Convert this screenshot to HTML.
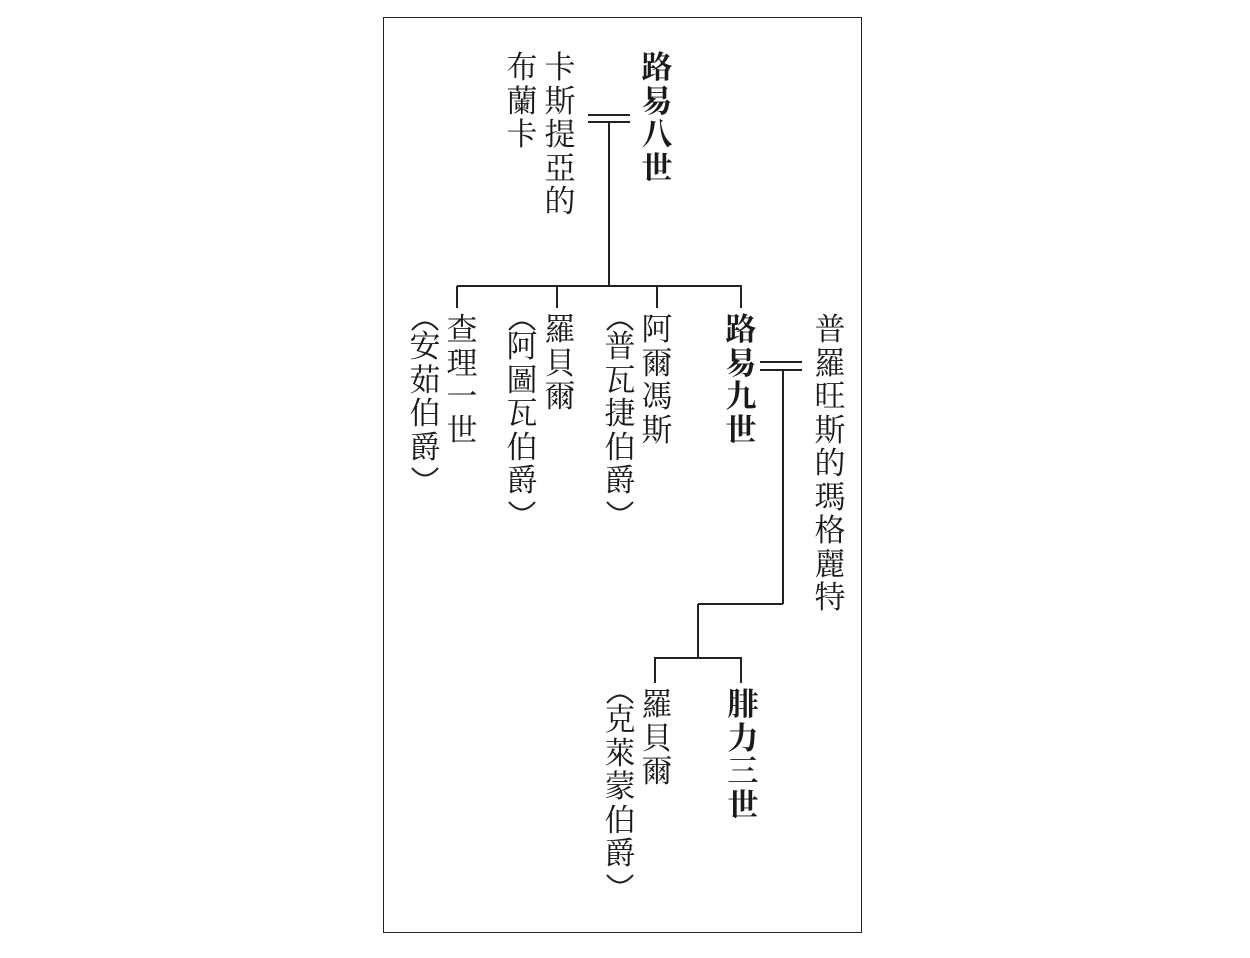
<!DOCTYPE html>
<html><head><meta charset="utf-8"><style>
body{margin:0;background:#fff;width:1250px;height:958px;position:relative;overflow:hidden}
.box{position:absolute;left:383px;top:17px;width:477px;height:914px;border:1.5px solid #222}
.col{position:absolute;width:34px;font-family:"Liberation Serif","Noto Serif CJK SC",serif;font-size:31px;color:#1a1a1a}
.col div{height:33.5px;line-height:33.5px;text-align:center}
.col div.p{height:17px;line-height:17px}
.b{font-weight:bold}
svg.l{position:absolute;left:0;top:0}
</style></head><body>
<div class="box"></div>
<svg class="l" width="1250" height="958" stroke="#222" stroke-width="2" fill="none">
<line x1="588" y1="115" x2="630" y2="115"/><line x1="588" y1="122" x2="630" y2="122"/>
<line x1="609" y1="122" x2="609" y2="286"/>
<line x1="457" y1="286" x2="742" y2="286"/>
<line x1="457" y1="286" x2="457" y2="308"/><line x1="557" y1="286" x2="557" y2="308"/>
<line x1="657" y1="286" x2="657" y2="308"/><line x1="741" y1="286" x2="741" y2="308"/>
<line x1="760" y1="362" x2="802" y2="362"/><line x1="760" y1="370" x2="802" y2="370"/>
<line x1="783" y1="370" x2="783" y2="604"/>
<line x1="698" y1="604" x2="783" y2="604"/>
<line x1="698" y1="604" x2="698" y2="658"/>
<line x1="654" y1="658" x2="742" y2="658"/>
<line x1="655" y1="658" x2="655" y2="683"/><line x1="741" y1="658" x2="741" y2="683"/>
</svg>
<div class="col b" style="left:640px;top:51px"><div>路</div><div>易</div><div>八</div><div>世</div></div>
<div class="col" style="left:543px;top:51px"><div>卡</div><div>斯</div><div>提</div><div>亞</div><div>的</div></div>
<div class="col" style="left:505px;top:51px"><div>布</div><div>蘭</div><div>卡</div></div>

<div class="col" style="left:445px;top:313px"><div>查</div><div>理</div><div>一</div><div>世</div></div>
<div class="col" style="left:408px;top:313px"><div class="p"><svg width="34" height="17"><path d="M4 15 Q17 0 30 15" stroke="#222" stroke-width="2" fill="none"/></svg></div><div>安</div><div>茹</div><div>伯</div><div>爵</div><div class="p"><svg width="34" height="17"><path d="M4 2 Q17 17 30 2" stroke="#222" stroke-width="2" fill="none"/></svg></div></div>

<div class="col" style="left:543px;top:313px"><div>羅</div><div>貝</div><div>爾</div></div>
<div class="col" style="left:505px;top:313px"><div class="p"><svg width="34" height="17"><path d="M4 15 Q17 0 30 15" stroke="#222" stroke-width="2" fill="none"/></svg></div><div>阿</div><div>圖</div><div>瓦</div><div>伯</div><div>爵</div><div class="p"><svg width="34" height="17"><path d="M4 2 Q17 17 30 2" stroke="#222" stroke-width="2" fill="none"/></svg></div></div>

<div class="col" style="left:640px;top:313px"><div>阿</div><div>爾</div><div>馮</div><div>斯</div></div>
<div class="col" style="left:603px;top:313px"><div class="p"><svg width="34" height="17"><path d="M4 15 Q17 0 30 15" stroke="#222" stroke-width="2" fill="none"/></svg></div><div>普</div><div>瓦</div><div>捷</div><div>伯</div><div>爵</div><div class="p"><svg width="34" height="17"><path d="M4 2 Q17 17 30 2" stroke="#222" stroke-width="2" fill="none"/></svg></div></div>

<div class="col b" style="left:724px;top:313px"><div>路</div><div>易</div><div>九</div><div>世</div></div>
<div class="col" style="left:813px;top:313px"><div>普</div><div>羅</div><div>旺</div><div>斯</div><div>的</div><div>瑪</div><div>格</div><div>麗</div><div>特</div></div>

<div class="col" style="left:640px;top:688px"><div>羅</div><div>貝</div><div>爾</div></div>
<div class="col" style="left:603px;top:686px"><div class="p"><svg width="34" height="17"><path d="M4 15 Q17 0 30 15" stroke="#222" stroke-width="2" fill="none"/></svg></div><div>克</div><div>萊</div><div>蒙</div><div>伯</div><div>爵</div><div class="p"><svg width="34" height="17"><path d="M4 2 Q17 17 30 2" stroke="#222" stroke-width="2" fill="none"/></svg></div></div>
<div class="col b" style="left:726px;top:688px"><div>腓</div><div>力</div><div>三</div><div>世</div></div>
</body></html>
